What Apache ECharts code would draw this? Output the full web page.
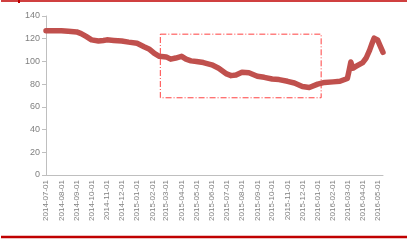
<!DOCTYPE html>
<html>
<head>
<meta charset="utf-8">
<script src="https://cdn.jsdelivr.net/npm/echarts@6/dist/echarts.min.js"></script>
<style>html,body{margin:0;padding:0;background:#fff}#c{width:416px;height:240px}</style>
</head>
<body>
<div id="c"></div>
<script>
var startDate = '2014-07-01';
var endDate = '2016-05-12';
var sampleDates = ['2014-07-01','2014-07-15','2014-08-01','2014-08-15','2014-09-01','2014-09-10','2014-09-20','2014-10-01','2014-10-15','2014-10-25','2014-11-01','2014-11-15','2014-12-01','2014-12-15','2015-01-01','2015-01-15','2015-01-25','2015-02-05','2015-02-15','2015-03-01','2015-03-10','2015-03-20','2015-04-01','2015-04-10','2015-04-20','2015-05-01','2015-05-15','2015-06-01','2015-06-15','2015-07-01','2015-07-10','2015-07-20','2015-08-01','2015-08-15','2015-09-01','2015-09-15','2015-10-01','2015-10-15','2015-11-01','2015-11-15','2015-12-01','2015-12-15','2016-01-01','2016-01-15','2016-02-01','2016-02-15','2016-03-01','2016-03-05','2016-03-08','2016-03-12','2016-03-20','2016-04-01','2016-04-08','2016-04-15','2016-04-20','2016-04-24','2016-05-01','2016-05-06','2016-05-12'];
var sampleValues = [127,127,127,126.5,126,124.5,122,119,118,118.5,119,118.5,118,117,116,113,111,107,104.5,104,102,103,104.5,102,100.5,100,99,97,94,89,87.5,88,90.5,90,87,86,84.5,84,82.5,81,78,77,80,81.5,82,82.5,85,93,99.5,94,96,99,103,110,116,120.5,119,114,108];
var yTicks = [0,20,40,60,80,100,120,140];
var boxRange = {x0:'2015-02-17', x1:'2016-01-08', y0:124, y1:68};

function fmt(d){var m=d.getUTCMonth()+1,dd=d.getUTCDate();return d.getUTCFullYear()+'-'+(m<10?'0':'')+m+'-'+(dd<10?'0':'')+dd;}
var categories=[];
for(var t=Date.parse(startDate+'T00:00:00Z'); t<=Date.parse(endDate+'T00:00:00Z'); t+=86400000){categories.push(fmt(new Date(t)));}
var lookup={};
sampleDates.forEach(function(d,i){lookup[d]=sampleValues[i];});
var seriesData=categories.map(function(d){return lookup[d]!==undefined?lookup[d]:null;});

var chart=echarts.init(document.getElementById('c'));
chart.setOption({
  animation:false,
  grid:{left:46,right:33,top:16,bottom:65,containLabel:false},
  xAxis:{type:'category',data:categories,boundaryGap:false,
    axisLine:{lineStyle:{color:'#BFBFBF',width:1}},
    axisTick:{show:false},
    axisLabel:{rotate:90,fontSize:8,color:'#808080',fontFamily:'Liberation Sans',margin:5,
      interval:function(i,v){return v.slice(8)==='01';}},
    splitLine:{show:false}},
  yAxis:{type:'value',min:yTicks[0],max:yTicks[yTicks.length-1],interval:20,
    axisLine:{show:true,lineStyle:{color:'#BFBFBF',width:1}},
    axisTick:{show:true,length:4,lineStyle:{color:'#BFBFBF'}},
    axisLabel:{fontSize:9,color:'#808080',fontFamily:'Liberation Sans',margin:6},
    splitLine:{show:false}},
  series:[{type:'line',data:seriesData,connectNulls:true,showSymbol:false,smooth:false,
    lineStyle:{color:'#C0504D',width:5.5,join:'round',cap:'round'},
    markArea:{silent:true,itemStyle:{color:'rgba(0,0,0,0)',borderColor:'#FF4040',borderWidth:1,borderType:[6,2,1,2]},
      data:[[{xAxis:boxRange.x0,yAxis:boxRange.y0},{xAxis:boxRange.x1,yAxis:boxRange.y1}]]}}],
  graphic:[
    {type:'line',shape:{x1:1,y1:1,x2:407,y2:1},style:{stroke:'#C00000',lineWidth:1.5}},
    {type:'line',shape:{x1:19,y1:0,x2:19,y2:3},style:{stroke:'#C00000',lineWidth:2}},
    {type:'line',shape:{x1:1,y1:237,x2:407,y2:237},style:{stroke:'#C00000',lineWidth:2.5}}
  ]
});
</script>
</body>
</html>
